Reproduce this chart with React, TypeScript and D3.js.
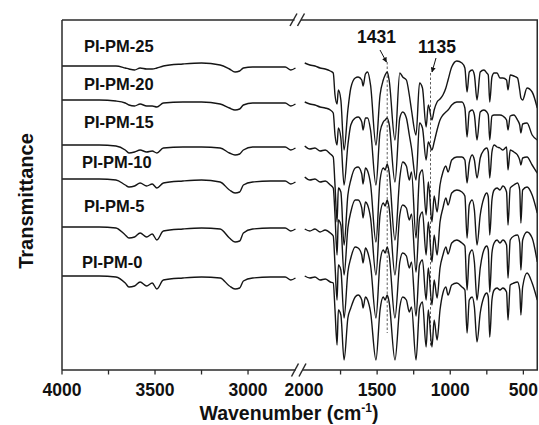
import React from 'react';
import * as d3 from 'd3';

// Wavenumber grids (cm-1) for the two axis segments
const leftWavenumbers = [4000, 3800, 3710, 3660, 3640, 3610, 3580, 3545, 3515, 3490, 3455, 3350, 3250, 3150, 3100, 3070, 3045, 3025, 2975, 2880, 2800, 2770, 2745];
const rightWavenumbers = [1995, 1960, 1925, 1890, 1855, 1820, 1800, 1788, 1774, 1765, 1748, 1726, 1700, 1680, 1650, 1630, 1605, 1596, 1580, 1565, 1545, 1508, 1480, 1458, 1445, 1431, 1418, 1378, 1345, 1325, 1300, 1280, 1265, 1234, 1210, 1190, 1165, 1150, 1125, 1110, 1090, 1070, 1050, 1030, 1015, 990, 955, 920, 900, 885, 870, 850, 835, 817, 795, 770, 750, 740, 730, 715, 700, 680, 660, 640, 615, 605, 590, 565, 540, 525, 517, 505, 475, 440, 405];

// Stacked transmittance (a.u., offset per sample)
const pm0Left = [94, 94, 93, 87, 83, 84, 88, 84, 87, 81, 90, 92, 93, 92, 84, 81, 82, 89, 92, 93, 93, 90, 92];
const pm0Right = [94, 92, 93, 90, 91, 88, 87, 60, 25, 60, 55, 10, 52, 62, 73, 75, 70, 62, 73, 70, 58, 10, 60, 73, 70, 75, 68, 10, 63, 73, 70, 58, 63, 10, 62, 68, 23, 60, 23, 50, 30, 60, 77, 83, 75, 85, 87, 83, 80, 37, 70, 73, 63, 28, 57, 73, 77, 73, 33, 70, 80, 82, 80, 82, 78, 50, 85, 87, 88, 80, 55, 83, 97, 87, 70];

const pm5Left = [143, 143, 142, 135, 132, 133, 137, 133, 136, 130, 139, 141, 142, 141, 132, 128, 129, 137, 141, 142, 142, 139, 141];
const pm5Right = [141, 139, 141, 138, 140, 137, 134, 105, 70, 105, 100, 52, 98, 112, 123, 122, 115, 107, 122, 118, 105, 52, 108, 120, 117, 123, 115, 52, 108, 117, 114, 102, 108, 54, 105, 110, 70, 102, 65, 90, 72, 102, 115, 123, 116, 127, 130, 127, 124, 80, 115, 120, 108, 70, 102, 120, 124, 120, 78, 117, 127, 130, 127, 130, 125, 92, 130, 134, 135, 127, 100, 130, 138, 132, 108];

const pm10Left = [191, 191, 190, 185, 183, 184, 187, 184, 186, 182, 187, 189, 190, 188, 180, 177, 178, 185, 188, 189, 189, 186, 188];
const pm10Right = [193, 190, 191, 188, 189, 185, 182, 155, 115, 150, 145, 95, 142, 158, 170, 170, 162, 152, 168, 165, 152, 95, 155, 167, 164, 170, 162, 95, 155, 165, 162, 150, 156, 98, 152, 158, 115, 148, 108, 135, 115, 148, 162, 172, 165, 177, 180, 178, 174, 132, 165, 170, 160, 125, 155, 172, 177, 173, 135, 170, 180, 182, 180, 184, 178, 145, 182, 185, 187, 180, 147, 180, 183, 175, 157];

const pm15Left = [225, 225, 224, 220, 217, 218, 220, 218, 219, 217, 222, 223, 223, 222, 217, 215, 216, 220, 223, 223, 223, 220, 222];
const pm15Right = [224, 221, 222, 219, 220, 216, 213, 185, 148, 182, 178, 125, 175, 190, 202, 203, 196, 186, 202, 199, 186, 128, 190, 202, 200, 206, 198, 130, 192, 208, 204, 190, 198, 132, 195, 200, 155, 188, 148, 174, 158, 185, 198, 204, 198, 210, 213, 213, 210, 187, 207, 215, 210, 192, 212, 220, 222, 218, 192, 218, 225, 223, 222, 220, 223, 200, 220, 218, 215, 210, 205, 212, 213, 205, 197];

const pm20Left = [270, 270, 269, 267, 265, 264, 266, 264, 264, 263, 267, 268, 268, 266, 262, 260, 261, 265, 267, 267, 267, 264, 266];
const pm20Right = [268, 266, 265, 263, 262, 260, 257, 235, 225, 242, 232, 185, 225, 245, 252, 253, 248, 240, 252, 252, 240, 185, 238, 248, 250, 252, 246, 188, 252, 258, 252, 235, 222, 190, 247, 242, 210, 228, 220, 228, 240, 250, 255, 258, 260, 265, 268, 268, 262, 233, 258, 260, 255, 230, 258, 260, 258, 255, 230, 254, 255, 255, 255, 254, 250, 240, 254, 255, 250, 245, 237, 246, 247, 235, 230];

const pm25Left = [304, 304, 304, 302, 301, 300, 302, 301, 301, 302, 304, 306, 307, 305, 301, 298, 299, 302, 303, 303, 303, 300, 302];
const pm25Right = [307, 305, 304, 302, 301, 299, 297, 275, 266, 280, 270, 220, 260, 282, 292, 293, 290, 284, 296, 298, 285, 225, 275, 290, 295, 298, 290, 230, 297, 293, 290, 275, 260, 235, 287, 282, 243, 265, 250, 260, 268, 271, 275, 282, 290, 303, 309, 307, 302, 278, 298, 300, 295, 270, 298, 300, 297, 295, 268, 293, 297, 297, 292, 292, 290, 280, 295, 294, 292, 280, 272, 270, 282, 278, 262];

const seriesNames = ['PI-PM-0', 'PI-PM-5', 'PI-PM-10', 'PI-PM-15', 'PI-PM-20', 'PI-PM-25'];

const leftTicks = [4000, 3750, 3500, 3250, 3000];
const leftTickLabels = [4000, 3500, 3000];
const rightTicks = [1750, 1500, 1250, 1000, 750, 500];
const rightTickLabels = [2000, 1500, 1000, 500];

const markerWavenumbers = [1431, 1135];
const markerTop = [308, 297];
const markerBottom = [37, 23];

const FONT = "'Liberation Sans', Arial, Helvetica, sans-serif";

export default function App() {
  const plotTop = 20;
  const plotBottom = 370;
  const plotLeft = 62;
  const plotRight = 538;

  const xL = d3.scaleLinear().domain([4000, 2740]).range([plotLeft, 296.4]);
  const xR = d3.scaleLinear().domain([2000, 400]).range([304, plotRight]);
  const y = d3.scaleLinear().domain([0, 350]).range([plotBottom, plotTop]);

  const lineL = d3
    .line<[number, number]>()
    .x((d) => xL(d[0]))
    .y((d) => y(d[1]))
    .curve(d3.curveMonotoneX);
  const lineR = d3
    .line<[number, number]>()
    .x((d) => xR(d[0]))
    .y((d) => y(d[1]))
    .curve(d3.curveMonotoneX);

  const series = [
    { name: seriesNames[0], left: pm0Left, right: pm0Right, lx: 82, ly: 268 },
    { name: seriesNames[1], left: pm5Left, right: pm5Right, lx: 84, ly: 212 },
    { name: seriesNames[2], left: pm10Left, right: pm10Right, lx: 82, ly: 168 },
    { name: seriesNames[3], left: pm15Left, right: pm15Right, lx: 84, ly: 128 },
    { name: seriesNames[4], left: pm20Left, right: pm20Right, lx: 84, ly: 90 },
    { name: seriesNames[5], left: pm25Left, right: pm25Right, lx: 84, ly: 52 },
  ];

  const frameColor = '#2a2a2a';
  const lineColor = '#151515';

  const annotations = [
    { text: '1431', tx: 376.5, ty: 43, ax1: 380, ay1: 50, ax2: 386.5, ay2: 62 },
    { text: '1135', tx: 437, ty: 53, ax1: 436, ay1: 58, ax2: 432, ay2: 72 },
  ];

  return (
    <svg
      width={539}
      height={425}
      style={{ position: 'absolute', left: 0, top: 0, background: '#ffffff' }}
      fontFamily={FONT}
    >
      <defs>
        <marker id="arrowHead" viewBox="0 0 10 10" refX="9" refY="5" markerWidth="5" markerHeight="5" orient="auto">
          <path d="M0,0 L10,5 L0,10 z" fill="#111" />
        </marker>
      </defs>
      <rect x={0} y={0} width={539} height={425} fill="#fff" />

      {/* dashed marker lines */}
      {markerWavenumbers.map((wn, i) => (
        <line
          key={wn}
          x1={xR(wn)}
          x2={xR(wn)}
          y1={y(markerTop[i])}
          y2={y(markerBottom[i])}
          stroke="#333"
          strokeWidth={0.8}
          strokeDasharray="2.5,2"
        />
      ))}

      {/* spectra */}
      {series.map((s) => (
        <g key={s.name}>
          <path
            d={lineL(d3.zip(leftWavenumbers, s.left) as [number, number][]) || ''}
            fill="none"
            stroke={lineColor}
            strokeWidth={1.4}
            strokeLinejoin="round"
          />
          <path
            d={lineR(d3.zip(rightWavenumbers, s.right) as [number, number][]) || ''}
            fill="none"
            stroke={lineColor}
            strokeWidth={1.4}
            strokeLinejoin="round"
          />
          <text x={s.lx} y={s.ly} fontSize={16.5} fontWeight="bold" fill="#111">
            {s.name}
          </text>
        </g>
      ))}

      {/* frame */}
      <g stroke={frameColor} strokeWidth={1.5} fill="none">
        <line x1={plotLeft} x2={plotLeft} y1={plotTop} y2={plotBottom} />
        <line x1={plotRight - 0.75} x2={plotRight - 0.75} y1={plotTop} y2={plotBottom} />
        <line x1={plotLeft} x2={294.5} y1={plotTop} y2={plotTop} />
        <line x1={301} x2={plotRight} y1={plotTop} y2={plotTop} />
        <line x1={plotLeft} x2={295.5} y1={plotBottom} y2={plotBottom} />
        <line x1={302.5} x2={plotRight} y1={plotBottom} y2={plotBottom} />
        {/* break marks */}
        <line x1={290} y1={26} x2={297} y2={13.5} />
        <line x1={297.5} y1={26} x2={304.5} y2={13.5} />
        <line x1={291.5} y1={376.5} x2={298.5} y2={363.5} />
        <line x1={299} y1={376.5} x2={306} y2={363.5} />
      </g>

      {/* ticks */}
      <g stroke={frameColor} strokeWidth={1.3}>
        {leftTicks.map((t) => (
          <line key={'lt' + t} x1={xL(t)} x2={xL(t)} y1={plotBottom} y2={plotBottom + 4.5} />
        ))}
        {rightTicks.map((t) => (
          <line key={'rt' + t} x1={xR(t)} x2={xR(t)} y1={plotBottom} y2={plotBottom + 4.5} />
        ))}
      </g>
      <g fontSize={17.5} fontWeight="bold" fill="#111" textAnchor="middle">
        {leftTickLabels.map((t) => (
          <text key={'ll' + t} x={xL(t)} y={396}>
            {t}
          </text>
        ))}
        {rightTickLabels.map((t) => (
          <text key={'rl' + t} x={xR(t)} y={396}>
            {t}
          </text>
        ))}
      </g>

      {/* axis titles */}
      <text x={289} y={420} fontSize={19.5} fontWeight="bold" fill="#111" textAnchor="middle">
        Wavenumber (cm
        <tspan fontSize={12} dy={-8}>-1</tspan>
        <tspan dy={8}>)</tspan>
      </text>
      <text
        transform="translate(33,201) rotate(-90)"
        fontSize={20}
        fontWeight="bold"
        fill="#111"
        textAnchor="middle"
      >
        Transmittance
      </text>

      {/* peak annotations */}
      {annotations.map((a) => (
        <g key={a.text}>
          <text x={a.tx} y={a.ty} fontSize={17.5} fontWeight="bold" fill="#111" textAnchor="middle">
            {a.text}
          </text>
          <line
            x1={a.ax1}
            y1={a.ay1}
            x2={a.ax2}
            y2={a.ay2}
            stroke="#111"
            strokeWidth={1}
            markerEnd="url(#arrowHead)"
          />
        </g>
      ))}
    </svg>
  );
}
